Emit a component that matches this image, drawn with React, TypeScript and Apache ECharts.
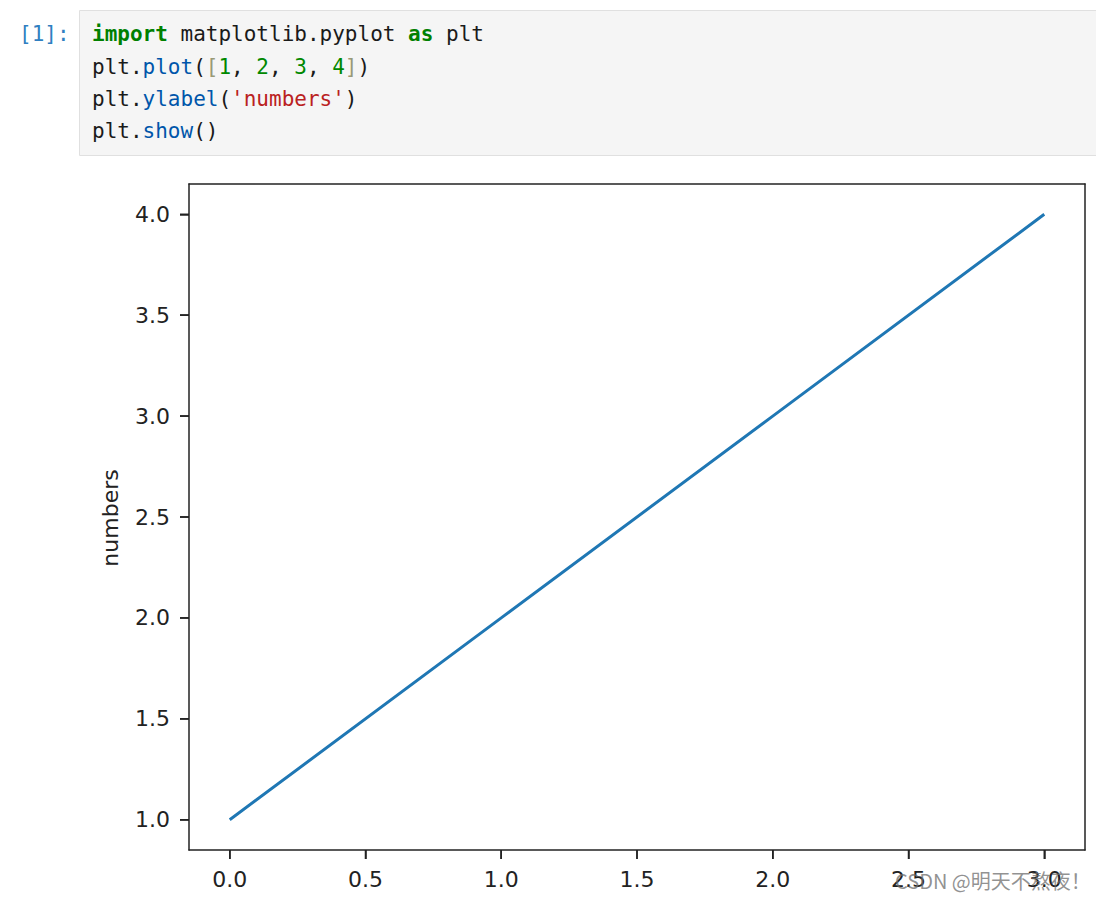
import React, { useEffect, useRef } from "react";
import * as echarts from "echarts";

const xValues = [0, 1, 2, 3];
const yValues = [1, 2, 3, 4];
const xTicks = [0, 0.5, 1, 1.5, 2, 2.5, 3];
const yTicks = [1, 1.5, 2, 2.5, 3, 3.5, 4];
const xRange = [-0.15, 3.15];
const yRange = [0.85, 4.15];
const yLabel = "numbers";
const promptText = "[1]:";
const watermark = "CSDN @明天不熬夜！";
const codeLines = [
  "{kw|import}{d| matplotlib.pyplot }{kw|as}{d| plt}",
  "{d|plt.}{p|plot}{d|(}{b|[}{n|1}{d|, }{n|2}{d|, }{n|3}{d|, }{n|4}{b|]}{d|)}",
  "{d|plt.}{p|ylabel}{d|(}{s|'numbers'}{d|)}",
  "{d|plt.}{p|show}{d|()}",
];

const MONO = "'DejaVu Sans Mono', 'Liberation Mono', monospace";
const SANS = "'DejaVu Sans', sans-serif";
const TICK_LEN = 9;
const TICK_W = 1.5;

export default function App() {
  const ref = useRef<HTMLDivElement>(null);
  useEffect(() => {
    if (!ref.current) return;
    const chart = echarts.init(ref.current, undefined, { renderer: "svg" });
    const base = { fontFamily: MONO, fontSize: 21 };
    const rich = {
      kw: { ...base, fill: "#008000", fontWeight: "bold" },
      d: { ...base, fill: "#1a1a1a" },
      p: { ...base, fill: "#0055aa" },
      b: { ...base, fill: "#999977" },
      n: { ...base, fill: "#008800" },
      s: { ...base, fill: "#ba2121" },
    };
    const codeY = [34, 66.5, 99, 131];
    const graphics: any[] = [
      {
        type: "rect",
        shape: { x: 79.5, y: 10.5, width: 1030, height: 145 },
        style: { fill: "#f5f5f5", stroke: "#e0e0e0", lineWidth: 1 },
        z: 0,
      },
      {
        type: "text",
        x: 19,
        y: 34,
        style: { text: promptText, fill: "#307fc1", font: `21px ${MONO}`, verticalAlign: "middle" },
      },
      ...codeLines.map((t, i) => ({
        type: "text",
        x: 92,
        y: codeY[i],
        style: { text: t, rich, fill: "#1a1a1a", verticalAlign: "middle", font: `21px ${MONO}` },
      })),
      {
        type: "text",
        x: 110,
        y: 518,
        rotation: Math.PI / 2,
        style: { text: yLabel, fill: "#222", font: `22px ${SANS}`, align: "center", verticalAlign: "middle" },
      },
      {
        type: "text",
        x: 895,
        y: 880,
        z: 100,
        style: {
          text: watermark,
          fill: "rgba(110,110,110,0.75)",
          font: `20px 'Noto Sans CJK SC', sans-serif`,
          verticalAlign: "middle",
        },
      },
    ];
    const labelStyle = { color: "#222", fontSize: 22, fontFamily: SANS };
    const lineStyle = { color: "#222", width: 1.5 };
    const tickCfg = (vals: number[]) => ({
      show: true,
      inside: false,
      length: TICK_LEN,
      lineStyle,
      customValues: vals,
    });
    const hiddenSide = {
      axisLine: { show: true, onZero: false, lineStyle },
      axisTick: { show: false },
      axisLabel: { show: false },
      splitLine: { show: false },
    };
    chart.setOption({
      animation: false,
      backgroundColor: "#fff",
      grid: { left: 189, top: 184, width: 896, height: 666, show: false },
      xAxis: [
        {
          type: "value",
          min: xRange[0],
          max: xRange[1],
          position: "bottom",
          axisLine: { show: true, onZero: false, lineStyle },
          axisTick: tickCfg(xTicks),
          splitLine: { show: false },
          axisLabel: { ...labelStyle, margin: 18, customValues: xTicks, formatter: (v: number) => v.toFixed(1) },
        },
        { type: "value", min: xRange[0], max: xRange[1], position: "top", ...hiddenSide },
      ],
      yAxis: [
        {
          type: "value",
          min: yRange[0],
          max: yRange[1],
          position: "left",
          axisLine: { show: true, onZero: false, lineStyle },
          axisTick: tickCfg(yTicks),
          splitLine: { show: false },
          axisLabel: { ...labelStyle, margin: 19, customValues: yTicks, formatter: (v: number) => v.toFixed(1) },
        },
        { type: "value", min: yRange[0], max: yRange[1], position: "right", ...hiddenSide },
      ],
      series: [
        {
          type: "line",
          data: xValues.map((x, i) => [x, yValues[i]]),
          showSymbol: false,
          lineStyle: { color: "#1f77b4", width: 3 },
        },
      ],
      graphic: graphics,
    });
    // tick marks placed through the library's own scales (drawn as thin rects)
    const tickEls: any[] = [];
    const finder = { xAxisIndex: 0, yAxisIndex: 0 } as any;
    xTicks.forEach((v) => {
      const p = chart.convertToPixel(finder, [v, yRange[0]]) as number[];
      if (!p) return;
      tickEls.push({
        type: "rect",
        z: 60,
        shape: { x: p[0] - TICK_W / 2, y: p[1], width: TICK_W, height: TICK_LEN },
        style: { fill: "#222" },
      });
    });
    yTicks.forEach((v) => {
      const p = chart.convertToPixel(finder, [xRange[0], v]) as number[];
      if (!p) return;
      tickEls.push({
        type: "rect",
        z: 60,
        shape: { x: p[0] - TICK_LEN, y: p[1] - TICK_W / 2, width: TICK_LEN, height: TICK_W },
        style: { fill: "#222" },
      });
    });
    chart.setOption({ graphic: [...graphics, ...tickEls] });
    return () => chart.dispose();
  }, []);
  return (
    <div
      ref={ref}
      style={{ position: "absolute", left: 0, top: 0, width: 1096, height: 901, background: "#fff" }}
    />
  );
}
